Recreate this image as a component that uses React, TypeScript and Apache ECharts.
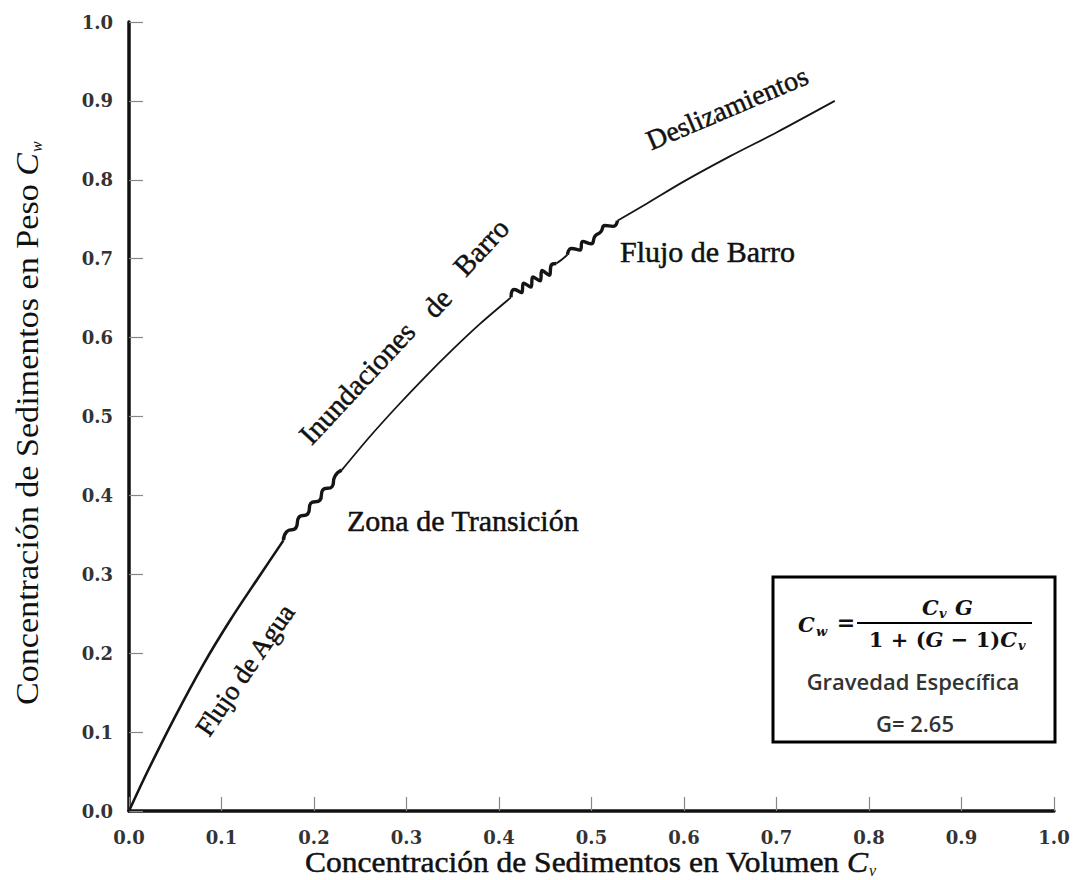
import React, { useEffect, useRef } from "react";
import * as echarts from "echarts";

// Tick labels of both axes
const xTickLabels = ["0.0", "0.1", "0.2", "0.3", "0.4", "0.5", "0.6", "0.7", "0.8", "0.9", "1.0"];
const yTickLabels = ["0.0", "0.1", "0.2", "0.3", "0.4", "0.5", "0.6", "0.7", "0.8", "0.9", "1.0"];

// Curve Cw vs Cv, split by flow regime
const flujoAguaCv = [0, 0.02, 0.05, 0.08, 0.11, 0.14, 0.167];
const flujoAguaCw = [0, 0.05, 0.12, 0.185, 0.243, 0.296, 0.343];

// wavy stretch (transition zone)
const transicionCv = [0.167, 0.1705, 0.1805, 0.1835, 0.1935, 0.1965, 0.2065, 0.2095, 0.2195, 0.2225, 0.23];
const transicionCw = [0.343, 0.354, 0.359, 0.372, 0.377, 0.39, 0.394, 0.407, 0.411, 0.424, 0.432];

const inundacionCv = [0.23, 0.26, 0.29, 0.32, 0.35, 0.38, 0.413];
const inundacionCw = [0.432, 0.474, 0.513, 0.55, 0.585, 0.618, 0.651];

// wavy stretch (mud flow, first)
const ondaBarro1Cv = [0.413, 0.4165, 0.4245, 0.4265, 0.4345, 0.4365, 0.4445, 0.4465, 0.4545, 0.4565, 0.462];
const ondaBarro1Cw = [0.651, 0.661, 0.657, 0.669, 0.664, 0.677, 0.672, 0.685, 0.679, 0.692, 0.694];

const tramoBarroCv = [0.462, 0.468, 0.474];
const tramoBarroCw = [0.694, 0.699, 0.705];

// wavy stretch (mud flow, second)
const ondaBarro2Cv = [0.474, 0.4785, 0.4875, 0.4905, 0.4995, 0.504, 0.51, 0.5145, 0.5235, 0.528];
const ondaBarro2Cw = [0.705, 0.713, 0.711, 0.722, 0.719, 0.729, 0.734, 0.742, 0.741, 0.748];

const deslizamientoCv = [0.528, 0.56, 0.6, 0.65, 0.7, 0.763];
const deslizamientoCw = [0.748, 0.77, 0.798, 0.83, 0.86, 0.9];

// Texts
const xAxisTitle = "Concentración de Sedimentos en Volumen ";
const yAxisTitle = "Concentración de Sedimentos en Peso ";
const regionLabels = {
  agua: "Flujo de Agua",
  transicion: "Zona de Transición",
  inund1: "Inundaciones",
  inund2: "de",
  inund3: "Barro",
  barro: "Flujo de Barro",
  desliz: "Deslizamientos",
};
const boxLine1 = "Gravedad Específica";
const boxLine2 = "G= 2.65";

const SERIF = "'Liberation Serif', 'Times New Roman', serif";
const MATH = "'DejaVu Serif', serif";
const SANS = "'Open Sans', 'Noto Sans', sans-serif";

const zip = (xs: number[], ys: number[]) => xs.map((x, i) => [x, ys[i]]);

function txt(
  text: string,
  x: number,
  y: number,
  size: number,
  rotDeg = 0,
  align = "center",
  extra: any = {},
  el: any = {}
) {
  return {
    type: "text",
    x,
    y,
    rotation: (rotDeg * Math.PI) / 180,
    z: 20,
    ...el,
    style: {
      text,
      fontFamily: SERIF,
      fontSize: size,
      fill: "#111",
      textAlign: align,
      align,
      textVerticalAlign: "middle",
      verticalAlign: "middle",
      ...extra,
    },
  };
}

const boldish = { stroke: "#111", lineWidth: 0.5 };

export default function App() {
  const ref = useRef<HTMLDivElement>(null);

  useEffect(() => {
    document.body.style.margin = "0";
    if (!ref.current) return;
    const chart = echarts.init(ref.current, undefined, { renderer: "svg" });

    const lineSeries = (name: string, xs: number[], ys: number[], width: number, smooth: number) => ({
      name,
      type: "line",
      data: zip(xs, ys),
      showSymbol: false,
      symbol: "none",
      smooth,
      silent: true,
      lineStyle: { color: "#151515", width },
      z: 5,
    });

    const option: any = {
      animation: false,
      backgroundColor: "#ffffff",
      grid: { left: 129, right: 25, top: 22, bottom: 69, containLabel: false },
      xAxis: {
        type: "value",
        min: 0,
        max: 1,
        interval: 0.1,
        axisLine: { show: true, lineStyle: { color: "#111", width: 3.5 } },
        axisTick: { show: true, inside: true, length: 14, lineStyle: { color: "#888", width: 1.2 } },
        splitLine: { show: false },
        axisLabel: {
          margin: 17,
          fontFamily: MATH,
          fontWeight: "bold",
          fontSize: 18,
          color: "#333",
          formatter: (v: number) => xTickLabels[Math.round(v * 10)],
        },
      },
      yAxis: {
        type: "value",
        min: 0,
        max: 1,
        interval: 0.1,
        axisLine: { show: true, lineStyle: { color: "#111", width: 3.5 } },
        axisTick: { show: true, inside: true, length: 14, lineStyle: { color: "#888", width: 1.2 } },
        splitLine: { show: false },
        axisLabel: {
          margin: 16,
          fontFamily: MATH,
          fontWeight: "bold",
          fontSize: 18,
          color: "#333",
          formatter: (v: number) => yTickLabels[Math.round(v * 10)],
        },
      },
      series: [
        lineSeries("Flujo de Agua", flujoAguaCv, flujoAguaCw, 2.6, 0.3),
        lineSeries("Zona de Transición", transicionCv, transicionCw, 3.4, 0.6),
        lineSeries("Inundaciones de Barro", inundacionCv, inundacionCw, 1.8, 0.3),
        lineSeries("Flujo de Barro 1", ondaBarro1Cv, ondaBarro1Cw, 3.4, 0.6),
        lineSeries("Flujo de Barro", tramoBarroCv, tramoBarroCw, 1.8, 0.3),
        lineSeries("Flujo de Barro 2", ondaBarro2Cv, ondaBarro2Cw, 3.4, 0.6),
        lineSeries("Deslizamientos", deslizamientoCv, deslizamientoCw, 1.8, 0.3),
      ],
      graphic: [
        // X axis title
        {
          type: "text",
          x: 868,
          y: 862,
          z: 20,
          scaleX: 1.05,
          style: {
            text: xAxisTitle + "{i|C}",
            fontFamily: SERIF,
            fontSize: 30,
            fill: "#111",
            ...boldish,
            textAlign: "right",
            align: "right",
            textVerticalAlign: "middle",
            verticalAlign: "middle",
            rich: { i: { fontFamily: SERIF, fontSize: 30, fontStyle: "italic", fill: "#111", ...boldish } },
          },
        },
        txt("v", 869, 870, 16, 0, "left", { fontStyle: "italic" }),
        // Y axis title (rotated)
        {
          type: "group",
          x: 28,
          y: 153,
          rotation: Math.PI / 2,
          children: [
            {
              type: "text",
              x: 0,
              y: 0,
              z: 20,
              scaleX: 1.1,
              style: {
                text: yAxisTitle + "{i|C}",
                fontFamily: SERIF,
                fontSize: 31,
                fill: "#111",
                textAlign: "right",
                align: "right",
                textVerticalAlign: "middle",
                verticalAlign: "middle",
                rich: { i: { fontFamily: SERIF, fontSize: 31, fontStyle: "italic", fill: "#111" } },
              },
            },
            txt("w", 1, 8, 16, 0, "left", { fontStyle: "italic" }),
          ],
        },
        // Region labels
        txt(regionLabels.agua, 245, 670, 27, 55.5, "center", boldish),
        txt(regionLabels.transicion, 347, 520, 30, 0, "left", boldish),
        txt(regionLabels.inund1, 357, 383, 29, 47, "center", boldish),
        txt(regionLabels.inund2, 437, 303, 29, 47, "center", boldish),
        txt(regionLabels.inund3, 481, 247, 29, 47, "center", boldish),
        txt(regionLabels.barro, 620, 251, 30, 0, "left", boldish),
        txt(regionLabels.desliz, 727, 108, 28, 23, "center", boldish),
        // Formula box
        {
          type: "rect",
          z: 15,
          shape: { x: 773, y: 577, width: 282, height: 165 },
          style: { fill: "#fff", stroke: "#000", lineWidth: 3 },
        },
        txt("C", 798, 624, 21, 0, "left", { fontFamily: MATH, fontWeight: "bold", fontStyle: "italic" }),
        txt("w", 816, 631, 13, 0, "left", { fontFamily: MATH, fontWeight: "bold", fontStyle: "italic" }),
        txt("=", 846, 622, 22, 0, "center", { fontFamily: MATH, fontWeight: "bold" }),
        {
          type: "line",
          z: 20,
          shape: { x1: 857, y1: 623, x2: 1032, y2: 623 },
          style: { stroke: "#000", lineWidth: 2 },
        },
        txt("C", 922, 607, 21, 0, "left", { fontFamily: MATH, fontWeight: "bold", fontStyle: "italic" }),
        txt("v", 939, 613, 13, 0, "left", { fontFamily: MATH, fontWeight: "bold", fontStyle: "italic" }),
        txt("G", 955, 607, 21, 0, "left", { fontFamily: MATH, fontWeight: "bold", fontStyle: "italic" }),
        {
          type: "text",
          x: 1017,
          y: 639,
          z: 20,
          style: {
            text: "1 + ({i|G} − 1){i|C}",
            fontFamily: MATH,
            fontWeight: "bold",
            fontSize: 21,
            fill: "#111",
            textAlign: "right",
            align: "right",
            textVerticalAlign: "middle",
            verticalAlign: "middle",
            rich: {
              i: { fontFamily: MATH, fontWeight: "bold", fontSize: 21, fontStyle: "italic", fill: "#111" },
            },
          },
        },
        txt("v", 1018, 645, 13, 0, "left", { fontFamily: MATH, fontWeight: "bold", fontStyle: "italic" }),
        txt(boxLine1, 913, 681, 22, 0, "center", { fontFamily: SANS, fontWeight: 600, fill: "#333" }),
        txt(boxLine2, 915, 723, 22, 0, "center", { fontFamily: SANS, fontWeight: 600, fill: "#333" }),
      ],
    };

    chart.setOption(option);
    return () => {
      chart.dispose();
    };
  }, []);

  return <div ref={ref} style={{ width: 1079, height: 880 }} />;
}
